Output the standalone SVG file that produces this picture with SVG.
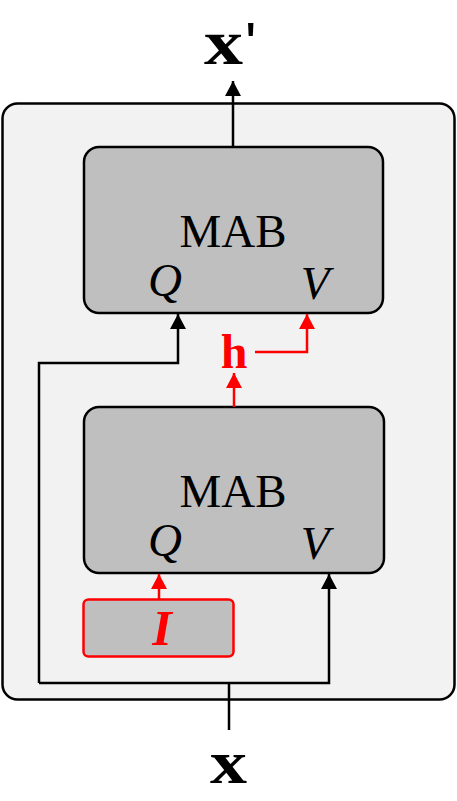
<svg xmlns="http://www.w3.org/2000/svg" width="457" height="801" viewBox="0 0 457 801">
<defs>
<style>
.outer{fill:#f2f2f2;stroke:#000;stroke-width:2.5}
.box{fill:#bfbfbf;stroke:#000;stroke-width:2.5}
.ibox{fill:#bfbfbf;stroke:#ff0000;stroke-width:2.5}
.k{fill:none;stroke:#000;stroke-width:2.5}
.r{fill:none;stroke:#ff0000;stroke-width:2.5}
.t{font-family:"Liberation Serif",serif;fill:#000}
.lbl{font-size:47px}
.it{font-style:italic;font-size:47px}
.bold{font-weight:bold}
.red{fill:#ff0000}
</style>
<marker id="ak" viewBox="0 0 14 15" refX="14" refY="7.5" markerWidth="15" markerHeight="16" markerUnits="userSpaceOnUse" orient="auto">
<path d="M0,0 L14,7.5 L0,15 Z" fill="#000"/>
</marker>
<marker id="ar" viewBox="0 0 14 15" refX="14" refY="7.5" markerWidth="15" markerHeight="16" markerUnits="userSpaceOnUse" orient="auto">
<path d="M0,0 L14,7.5 L0,15 Z" fill="#ff0000"/>
</marker>
</defs>
<g id="container">
<rect class="outer" x="2.5" y="103.5" width="452" height="596" rx="15"/>
</g>
<g id="mab-top">
<rect class="box" x="84" y="147" width="299" height="166" rx="15"/>
<text class="t lbl" x="233" y="247" text-anchor="middle">MAB</text>
<text class="t it" x="165" y="296" text-anchor="middle">Q</text>
<text class="t it" x="315" y="299" text-anchor="middle">V</text>
</g>
<g id="mab-bottom">
<rect class="box" x="84" y="407" width="300" height="166" rx="15"/>
<text class="t lbl" x="233" y="507" text-anchor="middle">MAB</text>
<text class="t it" x="165" y="556" text-anchor="middle">Q</text>
<text class="t it" x="315" y="559" text-anchor="middle">V</text>
</g>
<g id="inducing">
<rect class="ibox" x="83.5" y="599.5" width="150" height="57" rx="5"/>
<text class="t bold red" x="162" y="645" text-anchor="middle" font-style="italic" font-size="50">I</text>
</g>
<g id="h-label">
<text class="t bold red" x="234" y="368" text-anchor="middle" font-size="48">h</text>
</g>
<g id="x-out">
<text class="t bold" x="204" y="64" font-size="64"><tspan textLength="39" lengthAdjust="spacingAndGlyphs">x</tspan><tspan font-family="'Liberation Sans',sans-serif" font-weight="normal" font-size="60" dx="2">'</tspan></text>
</g>
<g id="x-in">
<text class="t bold" x="210" y="783" font-size="62" textLength="37" lengthAdjust="spacingAndGlyphs">x</text>
</g>
<g id="connectors">
<path class="k" d="M233,147 V81" marker-end="url(#ak)"/>
<path class="k" d="M39,683 V363 H178 V314" marker-end="url(#ak)"/>
<path class="k" d="M229,730 V683 M39,683 H329 V574" marker-end="url(#ak)"/>
<path class="r" d="M255,352 H307 V314" marker-end="url(#ar)"/>
<path class="r" d="M234,407 V373" marker-end="url(#ar)"/>
<path class="r" d="M159,599 V574" marker-end="url(#ar)"/>
</g>
</svg>
